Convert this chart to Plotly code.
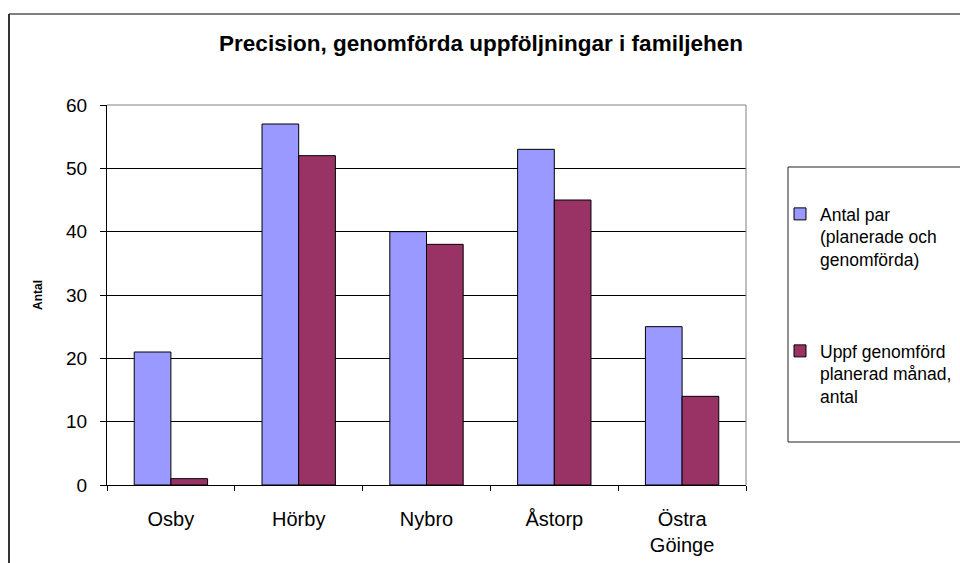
import plotly.graph_objects as go

categories = ["Osby", "Hörby", "Nybro", "Åstorp", "Östra<br>Göinge"]
antal_par = [21, 57, 40, 53, 25]
uppf_genomford = [1, 52, 38, 45, 14]
series_names = ["Antal par<br>(planerade och<br>genomförda)", "Uppf genomförd<br>planerad månad,<br>antal"]
y_ticks = [0, 10, 20, 30, 40, 50, 60]

W, H = 960, 563
L, R, T, B = 107, 746, 105, 485


def px_x(px):
    return (px - L) / (R - L)


def px_y(py):
    return (B - py) / (B - T)


FONT = "Liberation Sans, Arial, sans-serif"

fig = go.Figure()
fig.add_trace(go.Bar(
    x=categories, y=antal_par, name=series_names[0],
    marker=dict(color="#9999FF", line=dict(color="black", width=1)),
    legend="legend", showlegend=True,
))
fig.add_trace(go.Bar(
    x=categories, y=uppf_genomford, name=series_names[1],
    marker=dict(color="#993366", line=dict(color="black", width=1)),
    legend="legend2", showlegend=True,
))

legend_common = dict(xanchor="left", yanchor="top", xref="container", yref="container",
                     bgcolor="rgba(0,0,0,0)", borderwidth=0, valign="top",
                     font=dict(size=17.5, family=FONT))

fig.update_layout(
    width=W, height=H,
    margin=dict(l=L, r=W - R, t=T, b=H - B, autoexpand=False),
    paper_bgcolor="white", plot_bgcolor="white",
    font=dict(family=FONT, color="black", size=20),
    barmode="group", bargap=0.426, bargroupgap=0,
    showlegend=True,
    title=dict(text="<b>Precision, genomförda uppföljningar i familjehen</b>",
               x=481 / W, xref="container", xanchor="center",
               y=1 - 43 / H, yref="container", yanchor="middle",
               font=dict(size=22.5, family=FONT)),
    xaxis=dict(showgrid=False, showline=True, linecolor="black", linewidth=1,
               ticks="outside", tickson="boundaries", ticklen=5, tickcolor="black",
               tickfont=dict(size=20), ticklabelstandoff=16, fixedrange=True,
               automargin=False),
    yaxis=dict(range=[0, 60], tickvals=y_ticks, showgrid=True, gridcolor="black", gridwidth=1,
               showline=True, linecolor="black", linewidth=1, zeroline=False,
               ticks="outside", ticklen=6, tickcolor="black", tickfont=dict(size=19),
               ticklabelstandoff=9, fixedrange=True, automargin=False,
               title=dict(text="<b>Antal</b>", font=dict(size=12), standoff=20)),
    legend=dict(x=780 / W, y=1 - 196 / H, **legend_common),
    legend2=dict(x=780 / W, y=1 - 333 / H, **legend_common),
    shapes=[
        # outer chart border
        dict(type="line", xref="paper", yref="paper",
             x0=px_x(9), x1=px_x(975), y0=px_y(14), y1=px_y(14),
             line=dict(color="black", width=1), layer="below"),
        dict(type="line", xref="paper", yref="paper",
             x0=px_x(9), x1=px_x(9), y0=px_y(14), y1=px_y(580),
             line=dict(color="#333333", width=2), layer="below"),
        # plot area top/right border
        dict(type="line", xref="paper", yref="paper", x0=0, x1=1, y0=1, y1=1,
             line=dict(color="#808080", width=1), layer="above"),
        dict(type="line", xref="paper", yref="paper", x0=1, x1=1, y0=0, y1=1,
             line=dict(color="#808080", width=1), layer="above"),
        # legend box
        dict(type="rect", xref="paper", yref="paper",
             x0=px_x(788), x1=px_x(975), y0=px_y(167), y1=px_y(442),
             line=dict(color="#222222", width=1), layer="below"),
    ],
)

fig.write_html("out.html", config={"displayModeBar": False},
               post_script="document.body.style.margin='0px';")
